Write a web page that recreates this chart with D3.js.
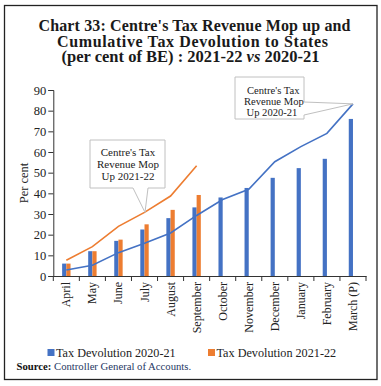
<!DOCTYPE html>
<html><head><meta charset="utf-8">
<script src="https://cdn.jsdelivr.net/npm/d3@7"></script>
<style>body{margin:0;background:#fff}svg{display:block}</style>
</head><body>
<script>
const months = ["April","May","June","July","August","September","October","November","December","January","February","March (P)"];
const devol2021 = [6, 12, 17, 22.5, 28, 33.2, 38, 42.6, 47.5, 52.2, 56.7, 76];
const devol2122 = [6, 12, 17.6, 25, 32, 39.2];
const mop2021 = [2.9, 5.2, 11.3, 15.8, 20.8, 29.3, 37, 42, 55.3, 62.6, 69, 83.3];
const mop2122 = [7.6, 14.2, 24, 30.8, 38.7, 53.3];
const yTicks = [0,10,20,30,40,50,60,70,80,90];
const titleLines = ["Chart 33: Centre's Tax Revenue Mop up and","Cumulative Tax Devolution to States"];
const calloutText = ["Centre's Tax","Revenue Mop"];
const blue = "#4472C4", orange = "#ED7D31";
const W = 381, H = 386;
const FONT = "'Liberation Serif', serif";

const svg = d3.select("body").append("svg").attr("width", W).attr("height", H)
  .style("font-family", FONT);

svg.append("rect").attr("x", 4.5).attr("y", 5.5).attr("width", 372.5).attr("height", 374)
  .attr("fill", "#fff").attr("stroke", "#222").attr("stroke-width", 1.3);

// title
const title = svg.append("text").attr("text-anchor", "middle").attr("font-weight", "bold")
  .attr("font-size", 16).attr("fill", "#1a1a1a").attr("lengthAdjust", "spacingAndGlyphs");
title.append("tspan").attr("x", 194.5).attr("y", 31).attr("textLength", 312).text(titleLines[0]);
title.append("tspan").attr("x", 192.5).attr("y", 46.5).attr("textLength", 271).text(titleLines[1]);
const t3 = svg.append("text").attr("x", 61.5).attr("y", 62).attr("font-weight", "bold")
  .attr("font-size", 16).attr("fill", "#1a1a1a").attr("textLength", 258).attr("lengthAdjust", "spacingAndGlyphs");
t3.append("tspan").text("(per cent of BE) : 2021-22 ");
t3.append("tspan").attr("font-style", "italic").text("vs");
t3.append("tspan").text(" 2020-21");

const x0 = 53.3, x1 = 366, yTop = 90, yBot = 276;
const x = d3.scaleBand().domain(months).range([x0, x1]);
const y = d3.scaleLinear().domain([0, 90]).range([yBot, yTop]);
const cx = i => x(months[i]) + x.bandwidth()/2;

// y axis
const yAxis = svg.append("g").attr("transform", `translate(${x0},0)`)
  .call(d3.axisLeft(y).tickValues(yTicks).tickSize(5).tickPadding(2));
yAxis.select(".domain").attr("stroke", "#333");
yAxis.selectAll(".tick line").attr("stroke", "#333");
yAxis.selectAll("text").attr("font-size", 12.5).attr("fill", "#222").style("font-family", FONT);

svg.append("text").attr("transform", `translate(28,${(yTop+yBot)/2}) rotate(-90)`)
  .attr("text-anchor", "middle").attr("font-size", 12.5).attr("fill", "#222").text("Per cent");

// bars
const bw = 4.2;
svg.append("g").selectAll("rect").data(devol2021).join("rect")
  .attr("x", (d,i) => cx(i) - bw)
  .attr("y", d => y(d)).attr("width", bw).attr("height", d => y(0) - y(d)).attr("fill", blue);
svg.append("g").selectAll("rect").data(devol2122).join("rect")
  .attr("x", (d,i) => cx(i))
  .attr("y", d => y(d)).attr("width", bw).attr("height", d => y(0) - y(d)).attr("fill", orange);

// lines
const line = d3.line().x((d,i) => cx(i)).y(d => y(d));
svg.append("path").datum(mop2021).attr("d", line).attr("fill", "none").attr("stroke", blue).attr("stroke-width", 1.6);
svg.append("path").datum(mop2122).attr("d", line).attr("fill", "none").attr("stroke", orange).attr("stroke-width", 1.6);

// x axis
const xAxis = svg.append("g").attr("transform", `translate(0,${yBot})`)
  .call(d3.axisBottom(x).tickSize(0).tickFormat(""));
xAxis.select(".domain").attr("stroke", "#333");
const bounds = d3.range(months.length + 1).map(i => x0 + i * x.step());
svg.append("g").selectAll("line").data(bounds).join("line")
  .attr("x1", d => d).attr("x2", d => d).attr("y1", yBot).attr("y2", yBot + 5).attr("stroke", "#333");
svg.append("g").selectAll("text").data(months).join("text")
  .attr("transform", (d,i) => `translate(${cx(i) + 4},${yBot + 6}) rotate(-90)`)
  .attr("text-anchor", "end").attr("font-size", 12).attr("fill", "#222").text(d => d);

// callouts
function callout(pts, lines, fs) {
  const g = svg.append("g");
  g.append("path").attr("d", d3.line()(pts)).attr("fill", "#fff").attr("stroke", "#c0c0c0").attr("stroke-width", 1);
  lines.forEach(([txt, tx, ty, anchor]) => g.append("text").attr("x", tx).attr("y", ty)
    .attr("text-anchor", anchor).attr("font-size", fs).attr("fill", "#222").text(txt));
}
// callout 1 (2021-22)
{
  const bx = 90, by = 140, w = 75, h = 48;
  const tip = [cx(3) + 0.5, y(mop2122[3])];
  callout([[bx,by],[bx+w,by],[bx+w,by+h],[bx+58,by+h],tip,[bx+43,by+h],[bx,by+h],[bx,by]],
    [[calloutText[0], 128, 155.5, "middle"], [calloutText[1], 128, 167.5, "middle"], ["Up 2021-22", 128, 179.5, "middle"]], 11);
}
// callout 2 (2020-21)
{
  const bx = 235, by = 77, w = 69, h = 42;
  const tip = [cx(11), y(mop2021[11])];
  callout([[bx,by],[bx+w,by],[bx+w,by+25],tip,[bx+w,by+38],[bx+w,by+h],[bx,by+h],[bx,by]],
    [[calloutText[0], 247, 94, "start"], [calloutText[1], 244, 105, "start"], ["Up 2020-21", 246.5, 115.8, "start"]], 10.6);
}

// legend
const legend = [["Tax Devolution 2020-21", blue, 47.5], ["Tax Devolution 2021-22", orange, 208]];
legend.forEach(([lab, col, lx]) => {
  svg.append("rect").attr("x", lx).attr("y", 349).attr("width", 7).attr("height", 7).attr("fill", col);
  svg.append("text").attr("x", lx + 8.5).attr("y", 356.5).attr("font-size", 12.2).attr("fill", "#222").text(lab);
});

// source
const src = svg.append("text").attr("x", 16.5).attr("y", 369.5).attr("font-size", 10.7).attr("fill", "#1f3864");
src.append("tspan").attr("font-weight", "bold").attr("fill", "#111").text("Source:");
src.append("tspan").text(" Controller General of Accounts.");
</script>
</body></html>
